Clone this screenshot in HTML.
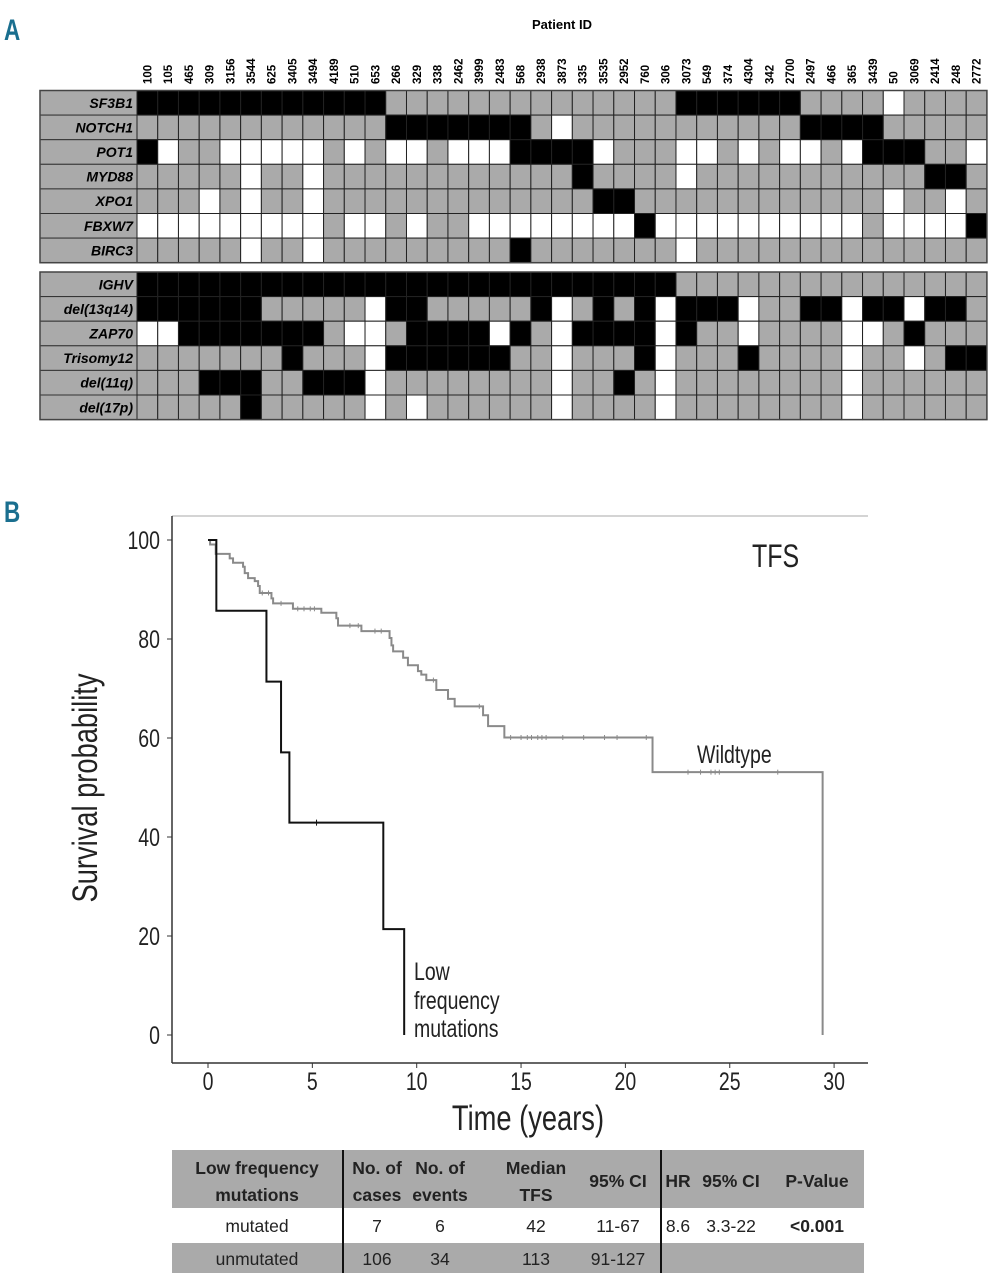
<!DOCTYPE html>
<html><head><meta charset="utf-8"><title>Mutation matrix and TFS</title>
<style>
html,body{margin:0;padding:0;background:#fff;}
svg{display:block;font-family:"Liberation Sans",sans-serif;}
</style></head>
<body>
<svg id="fig" width="999" height="1280" viewBox="0 0 999 1280" xmlns="http://www.w3.org/2000/svg">
  <text x="4" y="40" font-size="30" font-weight="bold" fill="#1a6f8f" transform="translate(4,40) scale(0.75,1) translate(-4,-40)">A</text>
  <text x="4" y="522" font-size="30" font-weight="bold" fill="#1a6f8f" transform="translate(4,522) scale(0.75,1) translate(-4,-522)">B</text>
  <text x="562" y="29" font-size="13" font-weight="bold" text-anchor="middle">Patient ID</text>
  <g id="grid"></g>
  <g id="km"></g>
  <g id="tbl"></g>
</svg>
<script>
const patients = ["100","105","465","309","3156","3544","625","3405","3494","4189","510","653","266","329","338","2462","3999","2483","568","2938","3873","335","3535","2952","760","306","3073","549","374","4304","342","2700","2497","466","365","3439","50","3069","2414","248","2772"];
const genes = ["SF3B1","NOTCH1","POT1","MYD88","XPO1","FBXW7","BIRC3"];
const geneStatus = [
 "BBBBBBBBBBBBGGGGGGGGGGGGGGBBBBBBGGGGWGGGG",
 "GGGGGGGGGGGGBBBBBBBGWGGGGGGGGGGGBBBBGGGGG",
 "BWGGWWWWWGWGWWGWWWBBBBWGGGWWGWGWWGWBBBGGW",
 "GGGGGWGGWGGGGGGGGGGGGBGGGGWGGGGGGGGGGGBBG",
 "GGGWGWGGWGGGGGGGGGGGGGBBGGGGGGGGGGGGWGGWG",
 "WWWWWWWWWGWWGWGGWWWWWWWWBWWWWWWWWWWGWWWWB",
 "GGGGGWGGWGGGGGGGGGBGGGGGGGWGGGGGGGGGGGGGG"
];
const markers = ["IGHV","del(13q14)","ZAP70","Trisomy12","del(11q)","del(17p)"];
const markerStatus = [
 "BBBBBBBBBBBBBBBBBBBBBBBBBBGGGGGGGGGGGGGGG",
 "BBBBBBGGGGGWBBGGGGGBWGBGBWBBBWGGBBWBBWBBG",
 "WWBBBBBBBGWWGBBBBWBGWBBBBWBGGWGGGGWWGBGGG",
 "GGGGGGGBGGGWBBBBBBGGWGGGBWGGGBGGGGWGGWGBB",
 "GGGBBBGGBBBWGGGGGGGGWGGBGWGGGGGGGGWGGGGGG",
 "GGGGGBGGGGGWGWGGGGGGWGGGGWGGGGGGGGWGGGGGG"
];
const wtTimes = [0,0.1,0.37,1.04,1.2,1.68,1.76,1.92,2.24,2.4,2.48,3.04,3.12,4.07,5.43,6.15,6.23,7.35,8.7,8.79,8.87,9.35,9.58,10.06,10.22,10.46,10.94,11.5,11.82,13.18,13.42,14.2,21.3,29.45];
const wtSurv  = [100,99.1,97.2,96.3,95.4,94.6,93.3,92.3,91.7,90.7,89.3,88.2,87.2,86.1,85.3,84.2,82.7,81.6,80.2,78.7,77.5,76.2,74.7,73.5,72.8,71.7,69.7,67.9,66.4,64.6,62.4,60.1,53.1,0];
const wtCensor = [2.6,2.9,3.5,4.3,4.6,4.9,5.1,6.8,7.2,8.0,8.3,10.8,13.0,14.5,15.0,15.3,15.5,15.8,16.0,16.2,17.0,18.0,19.0,19.6,21.0,23.0,23.6,24.1,24.3,24.5,27.3];
const mutTimes = [0,0.4,2.8,3.5,3.9,8.4,9.4];
const mutSurv  = [100,85.7,71.4,57.1,42.9,21.4,0];
const mutCensor = [5.2];
const yTicks = [0,20,40,60,80,100];
const xTicks = [0,5,10,15,20,25,30];
const tableHeader = [["Low frequency","mutations"],["No. of","cases"],["No. of","events"],["Median","TFS"],["95% CI"],["HR"],["95% CI"],["P-Value"]];
const tableRows = [["mutated","7","6","42","11-67","8.6","3.3-22","<0.001"],["unmutated","106","34","113","91-127","","",""]];

const NS="http://www.w3.org/2000/svg";
function mk(tag,attrs,parent){const e=document.createElementNS(NS,tag);for(const k in attrs)e.setAttribute(k,attrs[k]);parent.appendChild(e);return e;}
const colors={B:"#000",G:"#aaaaaa",W:"#ffffff"};

// ---- Panel A grid
const grid=document.getElementById('grid');
const gx0=137, cw=20.73, rh=24.6, labX0=40;
patients.forEach((p,i)=>{
  const cx=gx0+cw*i+cw/2+4;
  const t=mk('text',{x:cx,y:84,'font-size':11.5,'font-weight':'bold',transform:`rotate(-90 ${cx} 84)`},grid);
  
  
  t.textContent=p;
});
function drawBlock(names,status,top,nm){
  const g=mk('g',{},grid);
  
  
  names.forEach((n,r)=>{
    const y=top+r*rh;
    const lb=mk('rect',{x:labX0,y:y,width:gx0-labX0,height:rh,fill:'#aaaaaa',stroke:'#333','stroke-width':1},g);
    
    
    const tx=mk('text',{x:gx0-4,y:y+rh/2+5,'font-size':14,'font-weight':'bold','font-style':'italic','text-anchor':'end'},g);
    
    
    tx.textContent=n;
    for(let c=0;c<patients.length;c++){
      const s=status[r][c];
      const rc=mk('rect',{x:gx0+c*cw,y:y,width:cw,height:rh,fill:colors[s],stroke:'#222','stroke-width':1},g);
      
      
    }
  });
  const ob=mk('rect',{x:labX0,y:top,width:gx0+cw*patients.length-labX0,height:rh*names.length,fill:'none',stroke:'#444','stroke-width':1.5},g);
  
  
}
drawBlock(genes,geneStatus,90.5,'gene-mutation-block');
drawBlock(markers,markerStatus,272,'prognostic-marker-block');

// ---- Panel B KM
const km=document.getElementById('km');
const X0=172, X1=868, Y0=516, Y1=1063;
const xs=t=>208+t*20.87;
const ys=v=>1035-v*4.95;
function cond(el){el.setAttribute('transform',`translate(${el.getAttribute('x')},${el.getAttribute('y')}) scale(0.78,1) translate(${-el.getAttribute('x')},${-el.getAttribute('y')})`);}
let a=mk('line',{x1:X0,y1:Y0,x2:X1,y2:Y0,stroke:'#bbb','stroke-width':1.2},km);

a=mk('line',{x1:X0,y1:Y0,x2:X0,y2:Y1,stroke:'#333','stroke-width':1.5},km);

a=mk('line',{x1:X0,y1:Y1,x2:X1,y2:Y1,stroke:'#333','stroke-width':1.5},km);

yTicks.forEach(v=>{
  const tk=mk('line',{x1:X0-5,y1:ys(v),x2:X0,y2:ys(v),stroke:'#333'},km);
  
  const t=mk('text',{x:160,y:ys(v)+9,'font-size':25,'text-anchor':'end',fill:'#222'},km);
  
  t.textContent=v;cond(t);
});
xTicks.forEach(v=>{
  const tk=mk('line',{x1:xs(v),y1:Y1,x2:xs(v),y2:Y1+5,stroke:'#333'},km);
  
  const t=mk('text',{x:xs(v),y:1090,'font-size':25,'text-anchor':'middle',fill:'#222'},km);
  
  t.textContent=v;cond(t);
});
function stepPath(ts,ss){
  let d=`M${xs(ts[0])},${ys(ss[0])}`;
  for(let i=1;i<ts.length;i++){d+=` H${xs(ts[i])} V${ys(ss[i])}`;}
  return d;
}
function survAt(ts,ss,t){let v=ss[0];for(let i=0;i<ts.length;i++){if(ts[i]<=t)v=ss[i];}return v;}
const wp=mk('path',{d:stepPath(wtTimes,wtSurv),fill:'none',stroke:'#8a8a8a','stroke-width':2},km);

wtCensor.forEach(t=>{
  const v=survAt(wtTimes,wtSurv,t);
  const c=mk('line',{x1:xs(t),y1:ys(v)-2.5,x2:xs(t),y2:ys(v)+2.5,stroke:'#8a8a8a','stroke-width':1},km);
  
});
const mp=mk('path',{d:stepPath(mutTimes,mutSurv),fill:'none',stroke:'#111','stroke-width':2},km);

mutCensor.forEach(t=>{
  const v=survAt(mutTimes,mutSurv,t);
  const c=mk('line',{x1:xs(t),y1:ys(v)-3,x2:xs(t),y2:ys(v)+3,stroke:'#111','stroke-width':1},km);
  
});
function label(x,y,size,txt,nm,anchor){
  const t=mk('text',{x:x,y:y,'font-size':size,fill:'#222','text-anchor':anchor||'start'},km);
  
  t.textContent=txt;cond(t);return t;
}
label(752,567,32,'TFS','tfs-title');
label(697,763,25,'Wildtype','wildtype-label');
label(414,980,25,'Low','mutated-label-line1');
label(414,1009,25,'frequency','mutated-label-line2');
label(414,1037,25,'mutations','mutated-label-line3');
label(528,1130,35,'Time (years)','x-axis-title','middle');
const yt=mk('text',{x:0,y:0,'font-size':35,fill:'#222','text-anchor':'middle',transform:'translate(97,788) rotate(-90) scale(0.78,1)'},km);

yt.textContent='Survival probability';

// ---- Table
const tbl=document.getElementById('tbl');
const colCenters=[257,377,440,536,618,678,731,817];
let r=mk('rect',{x:172,y:1150,width:692,height:58,fill:'#aaaaaa'},tbl);

r=mk('rect',{x:172,y:1210,width:692,height:31,fill:'#ffffff'},tbl);

r=mk('rect',{x:172,y:1243,width:692,height:30,fill:'#aaaaaa'},tbl);

[343,661].forEach(x=>{
  const l=mk('line',{x1:x,y1:1150,x2:x,y2:1273,stroke:'#111','stroke-width':2},tbl);
  
});
tableHeader.forEach((h,i)=>{
  h.forEach((line,j)=>{
    const y=h.length===1?1187:1174+j*27;
    const t=mk('text',{x:colCenters[i],y:y,'font-size':17.5,'font-weight':'bold','text-anchor':'middle',fill:'#222'},tbl);
    
    t.textContent=line;
  });
});
tableRows.forEach((row,ri)=>{
  row.forEach((v,i)=>{
    const t=mk('text',{x:colCenters[i],y:1232+ri*33,'font-size':17.5,'text-anchor':'middle',fill:'#222','font-weight':(i===7?'bold':'normal')},tbl);
    
    t.textContent=v;
  });
});
</script>
</body></html>
